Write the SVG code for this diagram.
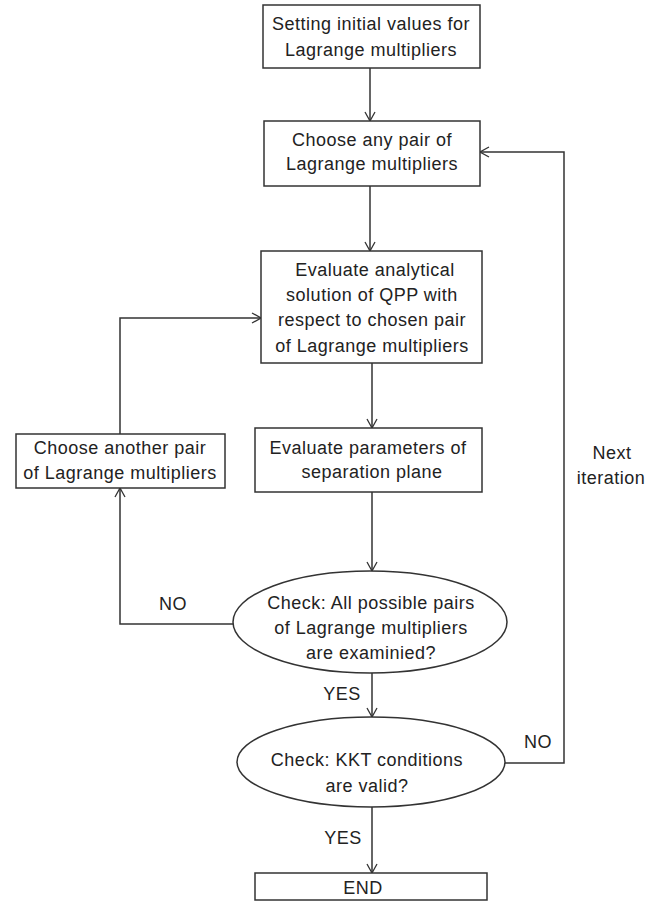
<svg xmlns="http://www.w3.org/2000/svg" width="648" height="904" viewBox="0 0 648 904">
<style>
.box{fill:#fff;stroke:#333;stroke-width:1.5}
.t{font-family:"Liberation Sans",Arial,sans-serif;font-size:18px;letter-spacing:0.5px;fill:#222;text-anchor:middle}
.c{fill:none;stroke:#333;stroke-width:1.5;marker-end:url(#ah)}
</style>
<defs>
<marker id="ah" viewBox="0 0 12 12" refX="11" refY="6" markerWidth="12" markerHeight="12" markerUnits="userSpaceOnUse" orient="auto">
<path d="M2,1 L11,6 L2,11" fill="none" stroke="#333" stroke-width="1.3"/>
</marker>
</defs>
<rect width="648" height="904" fill="#fff"/>
<g id="connectors">
<path class="c" d="M370,68 V121"/>
<path class="c" d="M370,186 V251"/>
<path class="c" d="M372,363 V428"/>
<path class="c" d="M372,492 V571"/>
<path class="c" d="M372,673 V717"/>
<path class="c" d="M372,807 V873"/>
<path class="c" d="M233,624 H120 V488"/>
<path class="c" d="M120,434 V318 H261"/>
<path class="c" d="M505,763 H564 V152 H480"/>
<text class="t" x="342" y="700">YES</text>
<text class="t" x="343" y="844">YES</text>
<text class="t" x="173" y="610">NO</text>
<text class="t" x="538" y="748">NO</text>
<text class="t" x="612" y="459">Next</text>
<text class="t" x="611" y="484">iteration</text>
</g>
<g id="n1">
<rect class="box" x="263" y="5" width="217" height="63"/>
<text class="t" x="371" y="30">Setting initial values for</text>
<text class="t" x="371" y="56">Lagrange multipliers</text>
</g>
<g id="n2">
<rect class="box" x="264" y="121" width="216" height="65"/>
<text class="t" x="372" y="146">Choose any pair of</text>
<text class="t" x="372" y="170">Lagrange multipliers</text>
</g>
<g id="n3">
<rect class="box" x="261" y="251" width="221" height="112"/>
<text class="t" x="375" y="276">Evaluate analytical</text>
<text class="t" x="372" y="301">solution of QPP with</text>
<text class="t" x="372" y="326">respect to chosen pair</text>
<text class="t" x="372" y="352">of Lagrange multipliers</text>
</g>
<g id="n4">
<rect class="box" x="16" y="434" width="209" height="54"/>
<text class="t" x="120" y="454">Choose another pair</text>
<text class="t" x="120" y="479">of Lagrange multipliers</text>
</g>
<g id="n5">
<rect class="box" x="255" y="428" width="227" height="64"/>
<text class="t" x="368" y="454">Evaluate parameters of</text>
<text class="t" x="372" y="478">separation plane</text>
</g>
<g id="n6">
<ellipse class="box" cx="370" cy="622" rx="137" ry="51"/>
<text class="t" x="371" y="609">Check: All possible pairs</text>
<text class="t" x="371" y="634">of Lagrange multipliers</text>
<text class="t" x="371" y="659">are examinied?</text>
</g>
<g id="n7">
<ellipse class="box" cx="371" cy="762" rx="134" ry="45"/>
<text class="t" x="367" y="766">Check: KKT conditions</text>
<text class="t" x="367" y="792">are valid?</text>
</g>
<g id="n8">
<rect class="box" x="255" y="873" width="232" height="27"/>
<text class="t" x="363" y="894">END</text>
</g>
</svg>
